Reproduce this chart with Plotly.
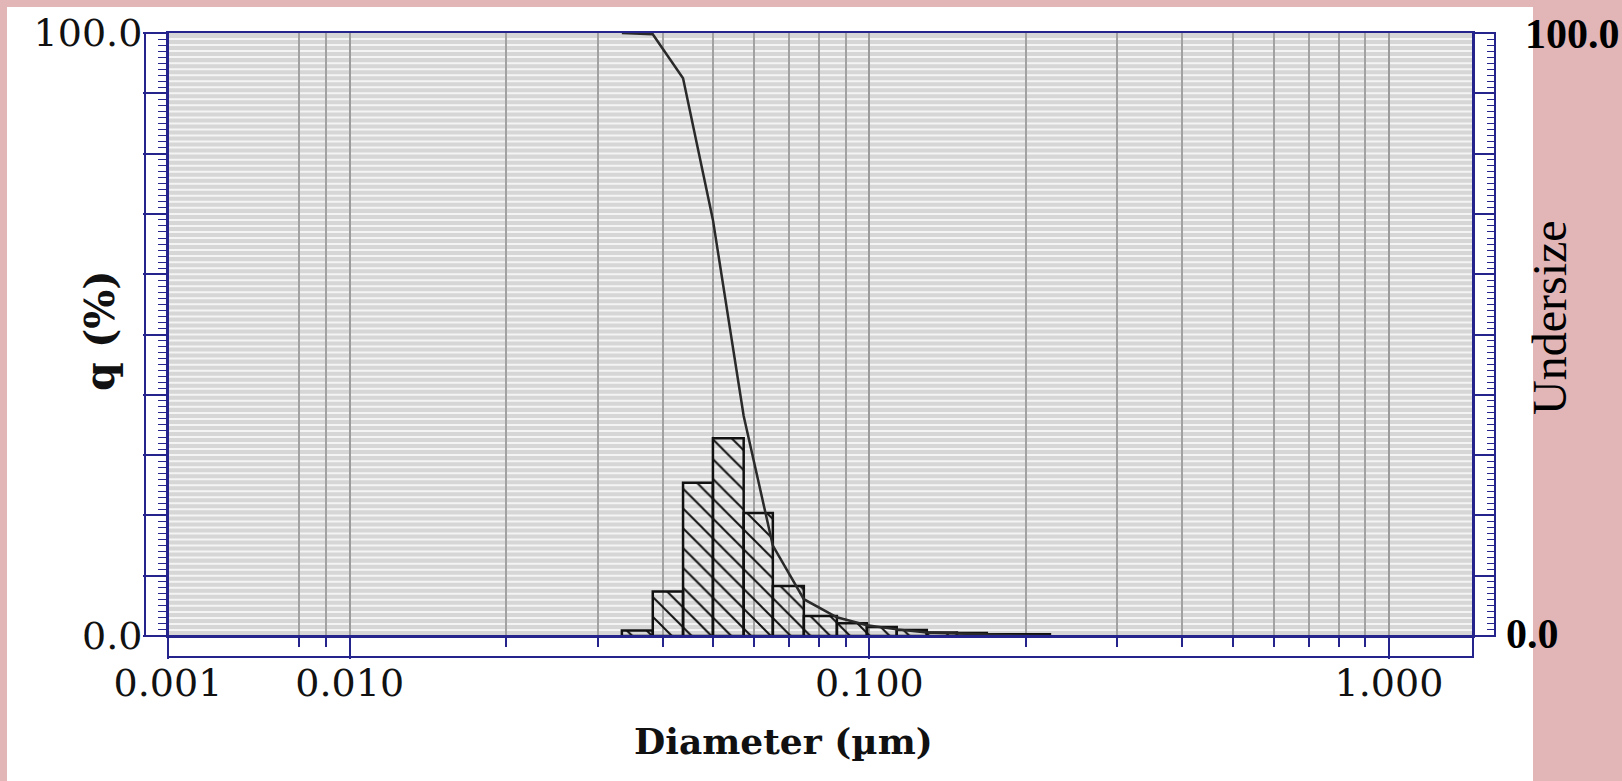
import math
import plotly.graph_objects as go

# ---------------- data ----------------
bin_edges_um = [0.0334, 0.0383, 0.0438, 0.0500, 0.0573, 0.0652, 0.0748,
                0.0866, 0.0989, 0.1129, 0.1290, 0.1474, 0.1683, 0.1922, 0.2226]
q_percent = [0.9, 7.4, 25.4, 32.8, 20.4, 8.3, 3.3, 2.1, 1.5, 1.0, 0.6, 0.5, 0.3, 0.3]
undersize_percent = [100.0, 99.8, 92.5, 69.0, 36.5, 15.0, 6.1, 3.1, 1.8, 1.1,
                     0.6, 0.4, 0.2, 0.1, 0.0]

x_range_um = [0.00447, 1.451]
x_major_vals = [0.00447, 0.01, 0.1, 1.0]
x_major_text = ["0.001", "0.010", "0.100", "1.000"]
x_minor_vals = [0.008, 0.009,
                0.02, 0.03, 0.04, 0.05, 0.06, 0.07, 0.08, 0.09,
                0.2, 0.3, 0.4, 0.5, 0.6, 0.7, 0.8, 0.9]
y_tick_vals = [0, 10, 20, 30, 40, 50, 60, 70, 80, 90, 100]
y_tick_text = ["0.0", "", "", "", "", "", "", "", "", "", "100.0"]

# ---------------- layout helpers (pixel -> paper) ----------------
PX_L, PX_R, PX_T, PX_B = 145, 1495, 33, 657
W, H = 1622, 781


def px(x):
    return (x - PX_L) / (PX_R - PX_L)


def py(y):
    return (PX_B - y) / (PX_B - PX_T)


NAVY = "#24248c"
SERIF = "DejaVu Serif"
TIMES = "Liberation Serif"

# ---------------- traces ----------------
bx, by = [], []
for i, h in enumerate(q_percent):
    l, r = bin_edges_um[i], bin_edges_um[i + 1]
    bx += [l, l, r, r, l, None]
    by += [0, h, h, 0, 0, None]

fig = go.Figure()
fig.add_trace(go.Scatter(
    x=bx, y=by, mode="lines", fill="toself",
    fillcolor="rgba(0,0,0,0)",
    fillpattern=dict(shape="\\", fgcolor="#111111", bgcolor="rgba(0,0,0,0)",
                     size=14, solidity=0.14, fillmode="replace"),
    line=dict(color="#111111", width=2.5),
    hoverinfo="skip", name="q (%)"))

fig.add_trace(go.Scatter(
    x=bin_edges_um, y=undersize_percent, mode="lines", yaxis="y2",
    line=dict(color="#2a2a2a", width=2.5), cliponaxis=False,
    name="Undersize"))

# ---------------- shapes ----------------
shapes = [
    # white card on the pink page
    dict(type="rect", xref="paper", yref="paper", x0=px(7), x1=px(1533),
         y0=py(781), y1=py(7), fillcolor="white", line=dict(width=0), layer="below"),
    # grey plot background
    dict(type="rect", xref="x domain", yref="y domain", x0=0, x1=1, y0=0, y1=1,
         fillcolor="#d6d6d6", line=dict(width=0), layer="below"),
]
# fine white horizontal stripes (background texture, under the vertical grid)
for k in range(1, 100):
    shapes.append(dict(type="line", xref="x domain", yref="y", x0=0, x1=1, y0=k, y1=k,
                       line=dict(color="#f4f4f4", width=2), layer="below"))
shapes += [
    # left tick box
    dict(type="rect", xref="paper", yref="paper", x0=px(145), x1=px(168),
         y0=py(636), y1=py(33), line=dict(color=NAVY, width=2), layer="above"),
    # right tick box
    dict(type="rect", xref="paper", yref="paper", x0=px(1473), x1=px(1495),
         y0=py(636), y1=py(33), line=dict(color=NAVY, width=2), layer="above"),
    # bottom tick box
    dict(type="rect", xref="paper", yref="paper", x0=px(168), x1=px(1473),
         y0=py(657), y1=py(636), line=dict(color=NAVY, width=2), layer="above"),
]

annotations = [
    dict(text="<b>q (%)</b>", x=px(100), y=py(331), xref="paper", yref="paper",
         textangle=-90, showarrow=False, xanchor="center", yanchor="middle",
         font=dict(family=SERIF, size=41, color="#111111")),
    dict(text="<b>Diameter (µm)</b>", x=px(783), y=py(741), xref="paper", yref="paper",
         showarrow=False, xanchor="center", yanchor="middle",
         font=dict(family=SERIF, size=36, color="#111111")),
    dict(text="<b>100.0</b>", x=px(1523), y=py(34), xref="paper", yref="paper",
         showarrow=False, xanchor="left", yanchor="middle",
         font=dict(family=TIMES, size=42, color="black")),
    dict(text="<b>0.0</b>", x=px(1504), y=py(634), xref="paper", yref="paper",
         showarrow=False, xanchor="left", yanchor="middle",
         font=dict(family=TIMES, size=42, color="black")),
    dict(text="Undersize", x=px(1549), y=py(318), xref="paper", yref="paper",
         textangle=-90, showarrow=False, xanchor="center", yanchor="middle",
         font=dict(family=TIMES, size=48, color="black")),
]

tickfont = dict(family=SERIF, size=38, color="#111111")

fig.update_layout(
    width=W, height=H, autosize=False,
    margin=dict(l=PX_L, r=W - PX_R, t=PX_T, b=H - PX_B, pad=0),
    paper_bgcolor="#e2b5b7",
    plot_bgcolor="rgba(0,0,0,0)",
    showlegend=False,
    shapes=shapes,
    annotations=annotations,
    xaxis=dict(
        type="log", domain=[px(168), px(1473)], anchor="y",
        range=[math.log10(x_range_um[0]), math.log10(x_range_um[1])],
        showline=True, linecolor=NAVY, linewidth=2, mirror=True,
        ticks="outside", ticklen=21, tickwidth=2, tickcolor=NAVY,
        tickmode="array", tickvals=x_major_vals, ticktext=x_major_text,
        tickfont=tickfont, ticklabelstandoff=-9,
        showgrid=True, gridcolor="#9c9c9c", gridwidth=1.5,
        minor=dict(tickmode="array", tickvals=x_minor_vals, ticks="outside",
                   ticklen=9, tickwidth=2, tickcolor=NAVY,
                   showgrid=True, gridcolor="#a2a2a2", gridwidth=1.5),
        zeroline=False, fixedrange=True,
    ),
    yaxis=dict(
        domain=[py(636), 1], anchor="x", range=[0, 100],
        showline=True, linecolor=NAVY, linewidth=2, mirror=True,
        ticks="outside", ticklen=23, tickwidth=1.5, tickcolor=NAVY,
        tickmode="array", tickvals=y_tick_vals, ticktext=y_tick_text,
        tickfont=tickfont, ticklabelstandoff=-7,
        showgrid=False,
        minor=dict(dtick=1, ticks="outside", ticklen=8, tickwidth=1, tickcolor=NAVY,
                   showgrid=False),
        zeroline=False, fixedrange=True,
    ),
    yaxis2=dict(
        overlaying="y", anchor="free", position=1, side="right", range=[0, 100],
        showline=False, ticks="inside", ticklen=21, tickwidth=1.5, tickcolor=NAVY,
        tickmode="array", tickvals=y_tick_vals, showticklabels=False,
        showgrid=False,
        minor=dict(dtick=1, ticks="inside", ticklen=8, tickwidth=1, tickcolor=NAVY,
                   showgrid=False),
        zeroline=False, fixedrange=True,
    ),
)

fig.write_html("out.html")
